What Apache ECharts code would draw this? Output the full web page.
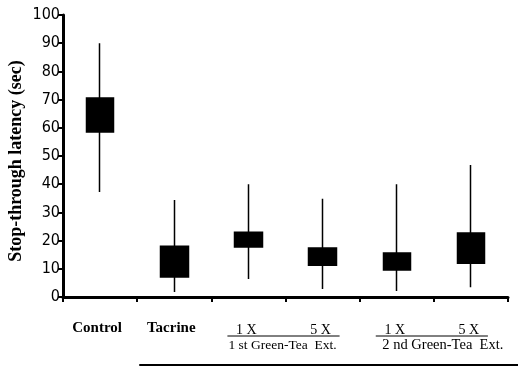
<!DOCTYPE html>
<html>
<head>
<meta charset="utf-8">
<script src="https://cdn.jsdelivr.net/npm/echarts@6/dist/echarts.min.js"></script>
<style>html,body{margin:0;padding:0;background:#fff;}#c{width:518px;height:367px;}</style>
</head>
<body>
<div id="c"></div>
<script>
const categories = ['Control', 'Tacrine', '1 X', '5 X', '1 X', '5 X'];
const boxLow = [58.5, 7.1, 17.7, 11.3, 9.6, 12.0];
const boxHigh = [70.6, 18.0, 23.0, 17.4, 15.6, 22.7];
const whiskerLow = [37.2, 1.8, 6.4, 2.8, 2.1, 3.5];
const whiskerHigh = [90.0, 34.4, 40.0, 34.8, 40.0, 46.8];
const groupLabels = ['1 st Green-Tea  Ext.', '2 nd Green-Tea  Ext.'];
const groupMembers = [[2, 3], [4, 5]];
const yMin = 0, yMax = 100, yStep = 10;

const serif = '"Liberation Serif", "DejaVu Serif", serif';
const narrow = '"Liberation Sans Narrow", "DejaVu Sans Condensed", "Liberation Sans", sans-serif';
const chart = echarts.init(document.getElementById('c'));
const candleData = categories.map((c, i) => [boxLow[i], boxHigh[i], whiskerLow[i], whiskerHigh[i]]);

chart.setOption({
  animation: false,
  backgroundColor: '#fff',
  grid: { left: 63, right: 10, top: 15, bottom: 70, containLabel: false, outerBoundsMode: 'none' },
  xAxis: {
    type: 'category',
    data: categories,
    boundaryGap: true,
    axisLine: { lineStyle: { color: '#000', width: 3 } },
    axisTick: { show: true, interval: 0, length: 5, lineStyle: { color: '#000', width: 2 } },
    axisLabel: {
      interval: 0,
      margin: 24,
      color: '#000',
      fontFamily: serif,
      fontSize: 14,
      formatter: function (v, i) { return i < 2 ? '{b|' + v + '}' : '{r|' + v + '}'; },
      rich: {
        b: { fontFamily: serif, fontSize: 15, fontWeight: 'bold', color: '#000', padding: [0, 6, 0, 0] },
        r: { fontFamily: serif, fontSize: 14, color: '#000', padding: [2, 4, 0, 0] }
      }
    },
    splitLine: { show: false }
  },
  yAxis: {
    type: 'value',
    min: yMin, max: yMax, interval: yStep,
    name: 'Stop-through latency (sec)',
    nameLocation: 'middle',
    nameGap: 38,
    nameRotate: 90,
    nameMoveOverlap: false,
    nameTextStyle: { fontFamily: serif, fontSize: 18, fontWeight: 'bold', color: '#000', padding: [0, 10, 0, 0] },
    axisLine: { show: true, lineStyle: { color: '#000', width: 3 } },
    axisTick: { show: true, length: 5, lineStyle: { color: '#000', width: 2 } },
    axisLabel: { color: '#000', fontFamily: narrow, fontSize: 16, margin: 3 },
    splitLine: { show: false }
  },
  series: [{
    type: 'candlestick',
    data: candleData,
    barWidth: 28,
    itemStyle: { color: '#000', color0: '#000', borderColor: '#000', borderColor0: '#000', borderWidth: 1.5 }
  }]
});

// group annotations positioned with the axis scale
const axisY = chart.convertToPixel({ yAxisIndex: 0 }, 0);
const graphics = [];
groupMembers.forEach((g, k) => {
  const x1 = chart.convertToPixel({ xAxisIndex: 0 }, g[0]);
  const x2 = chart.convertToPixel({ xAxisIndex: 0 }, g[1]);
  graphics.push({
    type: 'line', shape: { x1: x1 - 21, y1: axisY + 39, x2: x2 + 17, y2: axisY + 39 },
    style: { stroke: '#000', lineWidth: 1 }
  });
  graphics.push({
    type: 'text', x: (x1 + x2) / 2 - 3 + (k ? 12 : 0), y: axisY + 48,
    style: { text: groupLabels[k], fontFamily: serif, fontSize: k ? 14.5 : 13.5, fill: '#000', align: 'center', verticalAlign: 'middle' }
  });
});
const tacX = chart.convertToPixel({ xAxisIndex: 0 }, 1);
graphics.push({
  type: 'line', shape: { x1: tacX - 35, y1: axisY + 68, x2: 518, y2: axisY + 68 },
  style: { stroke: '#000', lineWidth: 2 }
});
chart.setOption({ graphic: graphics });
</script>
</body>
</html>
